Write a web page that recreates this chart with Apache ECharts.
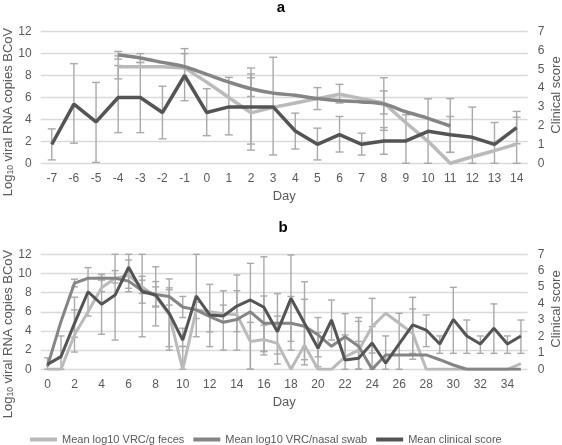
<!DOCTYPE html>
<html>
<head>
<meta charset="utf-8">
<script src="https://cdn.jsdelivr.net/npm/echarts@6/dist/echarts.min.js"></script>
<style>html,body{margin:0;padding:0;background:#fff}#c{width:562px;height:445px}</style>
</head>
<body>
<div id="c"></div>
<script>
// ---------- Panel a ----------
const aDays = ['-7','-6','-5','-4','-3','-2','-1','0','1','2','3','4','5','6','7','8','9','10','11','12','13','14'];
const aFeces = [null,null,null,8.8,8.8,8.8,8.7,7.4,6.0,4.6,5.1,5.5,5.9,6.3,5.9,5.5,3.7,2.0,0,0.6,1.15,1.75];
const aNasal = [null,null,null,9.9,9.6,9.2,8.8,8.1,7.4,6.8,6.4,6.2,5.9,5.7,5.6,5.4,4.7,4.1,3.4,null,null,null];
const aClinical = [1.0,3.15,2.2,3.5,3.5,2.7,4.67,2.7,3.0,3.0,3.0,1.72,1.01,1.52,1.01,1.19,1.19,1.7,1.52,1.38,1.01,1.9];
// error bars: [day, low, high]
const aFecesErr = [['-4',7.7,9.8],['2',1.2,8.15],['3',0.76,9.67],['5',4.9,6.9],['6',5.5,7.2],['8',4.5,6.6],['14',0,4.2]];
const aNasalErr = [['-4',9.5,10.2],['-3',9.2,10.0],['-1',7.6,10.0],['2',6.1,7.8],['8',3.0,7.8],['11',1.0,5.9]];
const aClinicalErr = [['-7',0.18,1.83],['-6',1.07,5.3],['-5',0.05,4.3],['-4',1.63,5.2],['-3',1.63,5.36],['-2',1.3,4.1],
  ['-1',3.33,6.1],['0',1.47,3.97],['1',1.51,4.57],['2',1.02,5.07],['4',0.76,2.67],['5',0.18,1.87],['6',0.6,2.49],
  ['7',0.44,1.6],['8',0.48,1.9],['9',0,2.58],['10',0,3.43],['11',0.58,2.49],['12',0,2.99],['13',0,2.17],['14',1.04,2.76]];

// ---------- Panel b ----------
const bDays = Array.from({length:36},(_,i)=>String(i));
const bFeces = [0,0,3.6,6.0,8.5,9.5,9.8,8.6,7.6,5.7,0,6.2,6.0,5.8,5.7,2.9,3.1,2.7,0,2.5,0,0,1.3,2.0,4.45,5.85,4.8,3.75,0,0,0,0,0,0,0,0.6];
const bNasal = [0.3,5.0,9.0,9.5,9.5,9.5,9.2,8.2,7.8,7.6,6.5,6.2,5.5,4.9,5.2,6.0,4.8,4.8,4.8,4.5,3.6,2.4,3.4,2.4,0,1.5,1.5,1.5,1.5,1.0,0.45,0,0,0,0,0];
const bClinical = [0.3,0.77,2.8,4.72,3.96,4.52,6.21,4.72,4.52,3.41,1.78,4.46,3.31,3.24,3.85,4.22,3.78,2.29,4.32,2.8,1.28,3.0,0.57,0.67,1.6,0.37,1.55,2.7,2.39,1.54,3.04,2.03,1.54,2.5,1.54,2.03];
const bFecesErr = [['2',1.8,6.2],['4',8.1,9.6],['6',8.1,11.4],['7',7.9,9.3],['8',6.6,8.6],['9',2.0,8.3],['10',0,2.4],
  ['11',5.3,7.0],['13',5.0,6.7],['15',0,4.9],['16',1.5,4.6],['23',0,5.0],['24',1.7,7.4],['27',1.05,6.3]];
const bNasalErr = [['2',8.6,9.4],['4',9.3,9.9],['5',9.0,10.3],['7',6.9,9.7],['8',6.5,9.15],['9',6.7,8.5],['10',5.4,7.6],
  ['12',3.9,6.0],['14',2.0,8.2],['16',1.9,7.65],['17',1.6,7.9],['18',2.0,7.6],['19',1.0,7.3],['20',1.3,5.4],['22',1.0,5.8],['23',0,5.4]];
const bClinicalErr = [['0',0,0.7],['1',0,2.03],['2',1.95,4.39],['3',3.24,6.19],['4',2.13,5.78],['5',1.78,7.0],['6',4.93,7.0],
  ['7',1.98,7.0],['8',2.64,6.24],['9',1.38,5.5],['10',1.38,2.5],['11',1.98,7.0],['12',1.38,5.17],['13',1.17,4.78],
  ['14',2.29,5.74],['15',0,6.45],['16',1.07,6.85],['17',0.32,3.24],['18',1.7,6.96],['19',0.27,5.33],['20',0.16,2.23],
  ['21',1.78,4.22],['22',0,2.09],['23',0,1.7],['24',0,2.6],['25',0,2.03],['26',0,3.41],['27',0.97,4.38],['28',1.38,3.31],
  ['29',0.97,2.03],['30',0.97,4.99],['31',0.97,3.0],['32',0.97,2.03],['33',0.97,3.98],['34',0.97,2.03],['35',0.97,3.0]];

const leftTicks = {min:0, max:12, interval:2};
const rightTicks = {min:0, max:7, interval:1};

const C_FECES = '#bababa', C_NASAL = '#858585', C_CLIN = '#545454', C_ERR = '#a9a9a9';
const TXT = '#595959';
const FONT = 'Liberation Sans, Arial, sans-serif';

function errRender(cap){
  return function(params, api){
    const x = api.value(0);
    const lo = api.coord([x, api.value(1)]);
    const hi = api.coord([x, api.value(2)]);
    const st = {stroke: C_ERR, lineWidth: 1.4};
    return {type:'group', children:[
      {type:'line', shape:{x1:lo[0],y1:lo[1],x2:hi[0],y2:hi[1]}, style:st},
      {type:'line', shape:{x1:lo[0]-cap,y1:lo[1],x2:lo[0]+cap,y2:lo[1]}, style:st},
      {type:'line', shape:{x1:hi[0]-cap,y1:hi[1],x2:hi[0]+cap,y2:hi[1]}, style:st}
    ]};
  };
}

function xAxisDef(gi, days, interval){
  return {type:'category', gridIndex:gi, data:days, boundaryGap:true,
    axisLine:{show:false}, axisTick:{show:false},
    axisLabel:{color:TXT, fontSize:12, fontFamily:FONT, margin:9, interval:interval},
    name:'Day', nameLocation:'middle', nameGap:27,
    nameTextStyle:{color:TXT, fontSize:13, fontFamily:FONT}};
}
function leftY(gi){
  return Object.assign({type:'value', gridIndex:gi, position:'left',
    axisLine:{show:false}, axisTick:{show:false},
    axisLabel:{color:TXT, fontSize:12, fontFamily:FONT, margin:9},
    splitLine:{show:true, lineStyle:{color:'#d9d9d9', width:1.3}}}, leftTicks);
}
function rightY(gi){
  return Object.assign({type:'value', gridIndex:gi, position:'right',
    axisLine:{show:false}, axisTick:{show:false},
    axisLabel:{color:TXT, fontSize:12, fontFamily:FONT, margin:10},
    splitLine:{show:false}}, rightTicks);
}
function lineS(name, xi, yi, data, color, w, smooth){
  return {type:'line', name:name, xAxisIndex:xi, yAxisIndex:yi, data:data, symbol:'none',
    smooth:smooth||false, connectNulls:false, z:3,
    lineStyle:{color:color, width:w}, itemStyle:{color:color}};
}
function errS(xi, yi, data, cap){
  return {type:'custom', xAxisIndex:xi, yAxisIndex:yi, data:data, renderItem:errRender(cap),
    encode:{x:0, y:[1,2]}, z:2, silent:true};
}

const N1 = 'Mean log10 VRC/g feces', N2 = 'Mean log10 VRC/nasal swab', N3 = 'Mean clinical score';

const nameRich = {a:{fontSize:13, fill:TXT, fontFamily:FONT, lineHeight:16, verticalAlign:'bottom'},
                  s:{fontSize:8.5, fill:TXT, fontFamily:FONT, lineHeight:8, verticalAlign:'bottom'}};

const option = {
  animation:false,
  backgroundColor:'#fff',
  textStyle:{fontFamily:FONT},
  grid:[
    {left:40.7, right:34.3, top:31.7, height:131.6},
    {left:40.7, right:34.3, top:254.3, height:115}
  ],
  xAxis:[xAxisDef(0, aDays, 0), xAxisDef(1, bDays, 1)],
  yAxis:[leftY(0), rightY(0), leftY(1), rightY(1)],
  legend:{left:25, top:429, icon:'rect', itemWidth:27, itemHeight:4, itemGap:9, itemTextGap:2,
    textStyle:{color:TXT, fontSize:11, fontFamily:FONT}, data:[N1,N2,N3]},
  graphic:[
    {type:'text', x:281, y:8, style:{text:'a', font:'bold 15px '+FONT, fill:'#000', align:'center', verticalAlign:'middle'}},
    {type:'text', x:283, y:228, style:{text:'b', font:'bold 15px '+FONT, fill:'#000', align:'center', verticalAlign:'middle'}},
    {type:'text', x:7, y:112, rotation:Math.PI/2, style:{text:'{a|Log}{s|10}{a| viral RNA copies BCoV}', rich:nameRich, align:'center', verticalAlign:'middle'}},
    {type:'text', x:7, y:334, rotation:Math.PI/2, style:{text:'{a|Log}{s|10}{a| viral RNA copies BCoV}', rich:nameRich, align:'center', verticalAlign:'middle'}},
    {type:'text', x:556, y:95, rotation:Math.PI/2, style:{text:'Clinical score', font:'13px '+FONT, fill:TXT, align:'center', verticalAlign:'middle'}},
    {type:'text', x:556, y:309, rotation:Math.PI/2, style:{text:'Clinical score', font:'13px '+FONT, fill:TXT, align:'center', verticalAlign:'middle'}}
  ],
  series:[
    errS(0,0,aFecesErr,4), errS(0,0,aNasalErr,4), errS(0,1,aClinicalErr,4),
    lineS(N1,0,0,aFeces,C_FECES,3.5,false),
    lineS(N2,0,0,aNasal,C_NASAL,3.5,0.35),
    lineS(N3,0,1,aClinical,C_CLIN,3.5,false),
    errS(1,2,bFecesErr,3.5), errS(1,2,bNasalErr,3.5), errS(1,3,bClinicalErr,3.5),
    lineS(N1,1,2,bFeces,C_FECES,3,false),
    lineS(N2,1,2,bNasal,C_NASAL,3,false),
    lineS(N3,1,3,bClinical,C_CLIN,3,false)
  ]
};
const chart = echarts.init(document.getElementById('c'), null, {renderer:'canvas'});
chart.setOption(option);
</script>
</body>
</html>
